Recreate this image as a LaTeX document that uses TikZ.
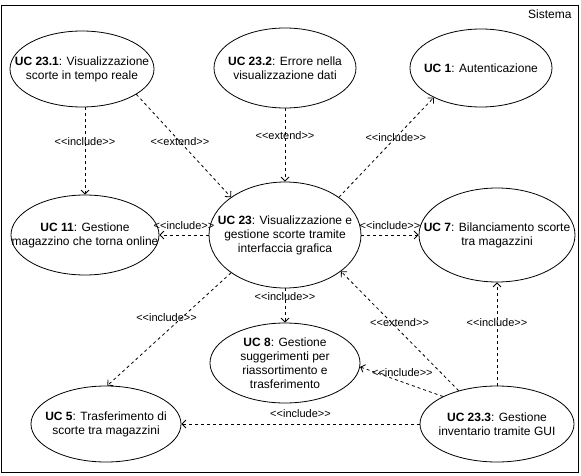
\documentclass[tikz,border=0pt]{standalone}
\usepackage{fontspec}
\setmainfont{Liberation Sans}
\usepackage{tikz}
\usetikzlibrary{
  arrows.meta,
  shapes.geometric
}
% stereotype text, kern keeps << from turning into a guillemet
\newcommand{\stype}[1]{<\kern0pt<#1>\kern0pt>}

\begin{document}
\begin{tikzpicture}[
    x=1pt, y=-1pt,
    every node/.style={font=\fontsize{12}{14}\selectfont},
    usecase/.style={draw, ellipse, line width=0.8pt, inner sep=0pt},
    uctext/.style={align=center, inner sep=0pt},
    relation/.style={line width=0.8pt, dash pattern=on 3pt off 3pt,
      -{Straight Barb[length=4pt,width=8pt]}},
    stlabel/.style={font=\fontsize{11}{13}\selectfont, inner sep=1pt}
  ]
    \useasboundingbox (0,0) rectangle (581,476);
    % system boundary
    \draw[line width=0.8pt] (1.5,5) rectangle (578,472);
    \node[anchor=north east] (sys) at (575,6) {Sistema};
    % use cases
    \node[usecase, minimum width=144, minimum height=76,
      label={[uctext]center:\textbf{UC 23.1}: Visualizzazione\\scorte in tempo reale}] (u231) at (82,69) {};
    \node[usecase, minimum width=142, minimum height=80,
      label={[uctext]center:\textbf{UC 23.2}: Errore nella\\visualizzazione dati}] (u232) at (285,68) {};
    \node[usecase, minimum width=142, minimum height=78,
      label={[uctext]center:\textbf{UC 1}: Autenticazione}] (u1) at (481,68) {};
    \node[usecase, minimum width=148, minimum height=80,
      label={[uctext]center:\textbf{UC 11}: Gestione\\magazzino che torna online}] (u11) at (85,235) {};
    \node[usecase, minimum width=152, minimum height=106,
      label={[uctext]center:\textbf{UC 23}: Visualizzazione e\\gestione scorte tramite\\interfaccia grafica}] (u23) at (285,235) {};
    \node[usecase, minimum width=156, minimum height=94,
      label={[uctext]center:\textbf{UC 7}: Bilanciamento scorte\\tra magazzini}] (u7) at (497,235) {};
    \node[usecase, minimum width=150, minimum height=80,
      label={[uctext]center:\textbf{UC 8}: Gestione\\suggerimenti per\\riassortimento e\\trasferimento}] (u8) at (285,363) {};
    \node[usecase, minimum width=150, minimum height=76,
      label={[uctext]center:\textbf{UC 5}: Trasferimento di\\scorte tra magazzini}] (u5) at (106,424) {};
    \node[usecase, minimum width=154, minimum height=76,
      label={[uctext]center:\textbf{UC 23.3}: Gestione\\inventario tramite GUI}] (u233) at (497,424) {};
    % relations from the upper use cases
    \draw[relation] (u231.south -| u11.north) -- node[stlabel,pos=0.39] {\stype{include}} (u11.north);
    \draw[relation] (u231.-25) -- node[stlabel,pos=0.46] {\stype{extend}} (u23.145);
    \draw[relation] (u232.south) -- node[stlabel,pos=0.37] {\stype{extend}} (u23.north);
    % relations from UC 23
    \draw[relation] (u23.35) -- node[stlabel,pos=0.6] {\stype{include}} (u1.-148);
    \draw[relation] (u23.west) -- node[stlabel,midway,yshift=9pt] {\stype{include}} (u11.east);
    \draw[relation] (u23.east) -- node[stlabel,midway,yshift=9pt] {\stype{include}} (u7.west);
    \draw[relation] (u23.south) -- node[stlabel,pos=0.25] {\stype{include}} (u8.north);
    \draw[relation] (u23.215) -- node[stlabel,pos=0.4,xshift=-15pt] {\stype{include}} (u5.88);
    % relations from UC 23.3
    \draw[relation] (u233.139) -- node[stlabel,pos=0.57,xshift=8pt] {\stype{extend}} (u23.-33);
    \draw[relation] (u233.153) -- node[stlabel,pos=0.49,yshift=9pt] {\stype{include}} (u8.-3);
    \draw[relation] (u233.west) -- node[stlabel,midway,yshift=10pt] {\stype{include}} (u5.east);
    \draw[relation] (u233.north) -- node[stlabel,pos=0.61] {\stype{include}} (u7.south);
\end{tikzpicture}
\end{document}
